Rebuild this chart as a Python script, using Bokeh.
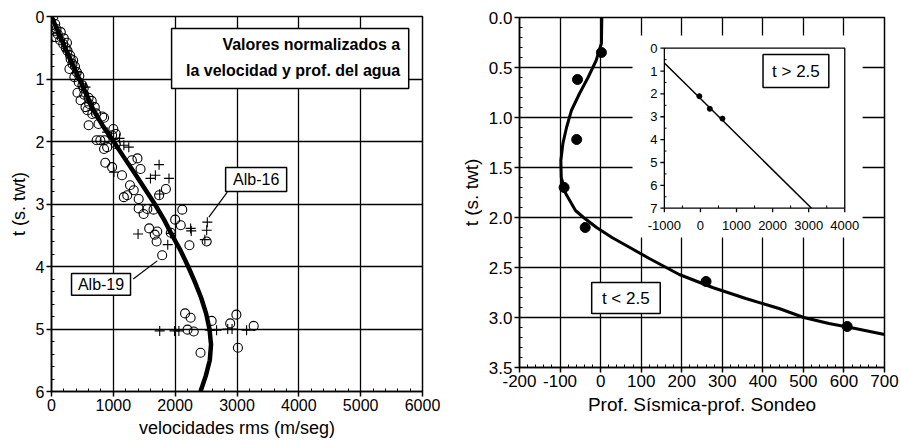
from bokeh.plotting import figure
from bokeh.layouts import row, column
from bokeh.models import Range1d, FixedTicker, PrintfTickFormatter
from bokeh.core.properties import value
from bokeh.embed import file_html
from bokeh.resources import INLINE

FONT = "Liberation Sans"

# ---------------- left chart data ----------------
circ_v = [30, 60, 80, 100, 70, 140, 190, 230, 260, 300, 310, 340, 290, 410, 370, 440, 500, 420,
          600, 470, 610, 550, 580, 660, 820, 850, 600, 760, 1000, 1040, 980, 730, 790, 860, 1040,
          850, 900, 150, 200, 250, 350, 380, 450, 520, 530, 650, 700, 720,
          870, 980, 1140, 1300, 1390, 1440, 1270, 1330, 1225, 1170, 1410, 1740, 1850, 1410, 1490,
          1550, 1650, 2115, 2000, 2090, 1580, 1710, 1670, 1700, 1930, 2230, 1790, 2510,
          2160, 2250, 2590, 2990, 2890, 3270, 2200, 2300, 2410, 3015]
circ_t = [0.0, 0.12, 0.2, 0.28, 0.33, 0.38, 0.44, 0.5, 0.55, 0.62, 0.68, 0.76, 0.84, 0.89, 0.97, 1.05, 1.1, 1.22,
          1.3, 1.34, 1.4, 1.45, 1.5, 1.56, 1.6, 1.62, 1.74, 1.72, 1.8, 1.88, 1.9, 1.98, 1.98, 1.98, 2.04,
          2.12, 2.09, 0.25, 0.35, 0.42, 0.7, 0.8, 0.95, 1.15, 1.25, 1.35, 1.45, 1.55,
          2.34, 2.41, 2.54, 2.3, 2.27, 2.44, 2.7, 2.78, 2.86, 2.89, 2.92, 2.86, 2.76, 3.07, 3.16,
          3.08, 3.09, 3.09, 3.25, 3.34, 3.39, 3.44, 3.49, 3.6, 3.46, 3.66, 3.82, 3.6,
          4.75, 4.82, 4.87, 4.77, 4.91, 4.95, 5.01, 5.04, 5.38, 5.3]
plus_v = [100, 250, 400, 550, 650, 900, 1100, 1170, 1250, 1740, 1680, 1600, 1900, 1750, 1010,
          1400, 1880, 2250, 2260, 2520, 2510, 2480, 1930,
          1750, 1990, 2060, 2560, 2670, 2850, 2920, 3155]
plus_t = [0.3, 0.55, 0.9, 1.13, 1.5, 1.85, 1.95, 2.06, 2.09, 2.37, 2.54, 2.59, 2.59, 2.84, 2.49,
          3.48, 3.65, 3.39, 3.43, 3.29, 3.42, 3.57, 3.47,
          5.03, 5.03, 5.03, 5.02, 5.02, 5.0, 5.0, 5.02]
curve_v = [0, 220, 450, 680, 830, 1005, 1170, 1340, 1670, 1820, 1950, 2090, 2210, 2320, 2420,
           2500, 2555, 2580, 2560, 2495, 2410]
curve_t = [0.0, 0.5, 1.0, 1.5, 1.75, 2.0, 2.25, 2.5, 3.0, 3.25, 3.5, 3.75, 4.0, 4.25, 4.5,
           4.75, 5.0, 5.25, 5.5, 5.75, 6.0]
left_xticks = [0, 1000, 2000, 3000, 4000, 5000, 6000]
left_yticks = [0, 1, 2, 3, 4, 5, 6]

# ---------------- right chart data ----------------
diff_x = [2, -57, -59, -90, -38, 260, 608]
diff_t = [0.35, 0.62, 1.22, 1.70, 2.10, 2.64, 3.09]
fit_x = [3, 2, -11, -31, -52, -72, -84, -93, -98, -97, -86, -62, -42, -10, 28, 72, 120, 194,
         276, 358, 440, 501, 563, 628, 700]
fit_t = [0.0, 0.26, 0.43, 0.60, 0.76, 0.93, 1.10, 1.26, 1.43, 1.60, 1.76, 1.93, 2.0, 2.1,
         2.2, 2.3, 2.41, 2.57, 2.7, 2.81, 2.91, 3.0, 3.06, 3.11, 3.17]
right_xticks = [-200, -100, 0, 100, 200, 300, 400, 500, 600, 700]
right_xlabels = ["-200", "-100", "0", "100", "200", "300", "400", "500", "600", "700"]
right_yticks = [0.0, 0.5, 1.0, 1.5, 2.0, 2.5, 3.0, 3.5]

# inset (t > 2.5)
inset_x = [-30, 260, 610]
inset_t = [2.1, 2.65, 3.08]
inset_fit_x = [-1000, 3080]
inset_fit_t = [0.65, 7.0]
inset_xticks = [-1000, 0, 1000, 2000, 3000, 4000]
inset_yticks = [0, 1, 2, 3, 4, 5, 6, 7]


def style(p, tick_fs, lab_fs):
    for ax in (p.xaxis[0], p.yaxis[0]):
        ax.axis_line_color = "black"
        ax.axis_line_width = 1.5
        ax.major_tick_line_color = "black"
        ax.major_tick_line_width = 1.5
        ax.major_tick_out = 5
        ax.major_tick_in = 0
        ax.minor_tick_line_color = "black"
        ax.minor_tick_line_width = 1
        ax.minor_tick_in = 3
        ax.minor_tick_out = 0
        ax.major_label_text_font = FONT
        ax.major_label_text_font_size = tick_fs
        ax.major_label_text_color = "black"
        ax.major_label_standoff = 2
        ax.axis_label_text_font = FONT
        ax.axis_label_text_font_size = lab_fs
        ax.axis_label_text_font_style = "normal"
        ax.axis_label_text_color = "black"
        ax.axis_label_standoff = 4
    p.outline_line_color = "black"
    p.outline_line_width = 1.5
    p.outline_line_alpha = 1
    p.grid.grid_line_color = "black"
    p.grid.grid_line_width = 1.3
    p.grid.grid_line_alpha = 1
    p.background_fill_color = "white"
    p.border_fill_color = "white"


# ---------------- left figure ----------------
p1 = figure(width=440, height=440, x_range=Range1d(0, 6000), y_range=Range1d(6, 0),
            output_backend="svg", toolbar_location=None,
            min_border_left=51, min_border_right=18, min_border_top=16, min_border_bottom=49,
            x_axis_label="velocidades rms (m/seg)", y_axis_label="t (s. twt)")
p1.xaxis.ticker = FixedTicker(ticks=left_xticks,
                              minor_ticks=[i * 200 for i in range(31)])
p1.yaxis.ticker = FixedTicker(ticks=left_yticks,
                              minor_ticks=[i * 0.2 for i in range(31)])
style(p1, "16px", "18px")

p1.line(curve_v, curve_t, line_width=4.5, color="black", line_join="round")
p1.scatter(circ_v, circ_t, marker="circle", size=9, fill_color=None,
           line_color="black", line_width=1.1)
p1.scatter(plus_v, plus_t, marker="cross", size=10, line_color="black", line_width=1.1)

# legend-like box
p1.quad(left=1942, right=5777, top=0.192, bottom=1.152, fill_color="white",
        line_color="black", line_width=1.5)
p1.text(x=[5640, 5640], y=[0.44, 0.865],
        text=["Valores normalizados a", "la velocidad y prof. del agua"],
        text_font=value(FONT), text_font_size=value("16px"), text_font_style="bold",
        text_align="right", text_baseline="middle", text_color="black")
# callouts
p1.segment(x0=[2843, 1322], y0=[2.81, 4.20], x1=[2545, 1710], y1=[3.21, 3.91],
           line_color="black", line_width=1.2)
p1.quad(left=[2816, 324], right=[3803, 1278], top=[2.416, 4.11], bottom=[2.8, 4.46],
        fill_color="white", line_color="black", line_width=1.5)
p1.text(x=[3310, 801], y=[2.61, 4.29], text=["Alb-16", "Alb-19"],
        text_font=value(FONT), text_font_size=value("16px"),
        text_align="center", text_baseline="middle", text_color="black")

# ---------------- right figure ----------------
p2 = figure(width=461, height=440, x_range=Range1d(-200, 700), y_range=Range1d(3.5, 0),
            output_backend="svg", toolbar_location=None,
            min_border_left=79, min_border_right=17, min_border_top=17, min_border_bottom=73,
            x_axis_label="Prof. Sísmica-prof. Sondeo", y_axis_label="t (s. twt)")
p2.xaxis.ticker = FixedTicker(ticks=right_xticks,
                              minor_ticks=[-200 + i * 20 for i in range(46)])
p2.xaxis.major_label_overrides = dict(zip(right_xticks, right_xlabels))
p2.yaxis.ticker = FixedTicker(ticks=right_yticks,
                              minor_ticks=[i * 0.1 for i in range(36)])
p2.yaxis.formatter = PrintfTickFormatter(format="%.1f")
style(p2, "17px", "19px")

p2.line(fit_x, fit_t, line_width=3, color="black", line_join="round")
p2.scatter(diff_x, diff_t, marker="circle", size=10, color="black")

p2.quad(left=-22, right=147, top=2.65, bottom=2.96, fill_color="white",
        line_color="black", line_width=1.5)
p2.text(x=[62], y=[2.81], text=["t < 2.5"], text_font=value(FONT),
        text_font_size=value("17px"), text_align="center", text_baseline="middle",
        text_color="black")

# inset: white background hiding main grid
p2.quad(left=78.6, right=646, top=0.18, bottom=2.2, fill_color="white", line_color=None)

sub = p2.subplot(x_source=Range1d(-1000, 4000), y_source=Range1d(7, 0),
                 x_target=Range1d(157.2, 602.0), y_target=Range1d(1.907, 0.307))
sub.quad(left=-1000, right=4000, top=0, bottom=7, fill_color=None,
         line_color="black", line_width=1.3)
sub.segment(x0=[-1000] * len(inset_yticks), y0=inset_yticks,
            x1=[-1110] * len(inset_yticks), y1=inset_yticks,
            line_color="black", line_width=1.3)
sub.segment(x0=[-1000] * 7, y0=[v + 0.5 for v in inset_yticks[:-1]],
            x1=[-940] * 7, y1=[v + 0.5 for v in inset_yticks[:-1]],
            line_color="black", line_width=1)
sub.segment(x0=inset_xticks, y0=[7] * len(inset_xticks),
            x1=inset_xticks, y1=[7.18] * len(inset_xticks),
            line_color="black", line_width=1.3)
sub.segment(x0=[v + 500 for v in inset_xticks[:-1]], y0=[7] * 5,
            x1=[v + 500 for v in inset_xticks[:-1]], y1=[6.88] * 5,
            line_color="black", line_width=1)
sub.text(x=[-1190] * len(inset_yticks), y=inset_yticks, text=[str(v) for v in inset_yticks],
         text_font=value(FONT), text_font_size=value("13px"), text_align="right",
         text_baseline="middle", text_color="black")
sub.text(x=inset_xticks, y=[7.75] * len(inset_xticks), text=[str(v) for v in inset_xticks],
         text_font=value(FONT), text_font_size=value("13px"), text_align="center",
         text_baseline="middle", text_color="black")
sub.line(inset_fit_x, inset_fit_t, line_width=1.5, color="black")
sub.scatter(inset_x, inset_t, marker="circle", size=5, color="black")
sub.quad(left=1735, right=3558, top=0.28, bottom=1.72, fill_color="white",
         line_color="black", line_width=1.5)
sub.text(x=[2646], y=[1.0], text=["t > 2.5"], text_font=value(FONT),
         text_font_size=value("17px"), text_align="center", text_baseline="middle",
         text_color="black")

layout = row(column(p1), column(p2))
open("out.html", "w").write(file_html(layout, INLINE))
